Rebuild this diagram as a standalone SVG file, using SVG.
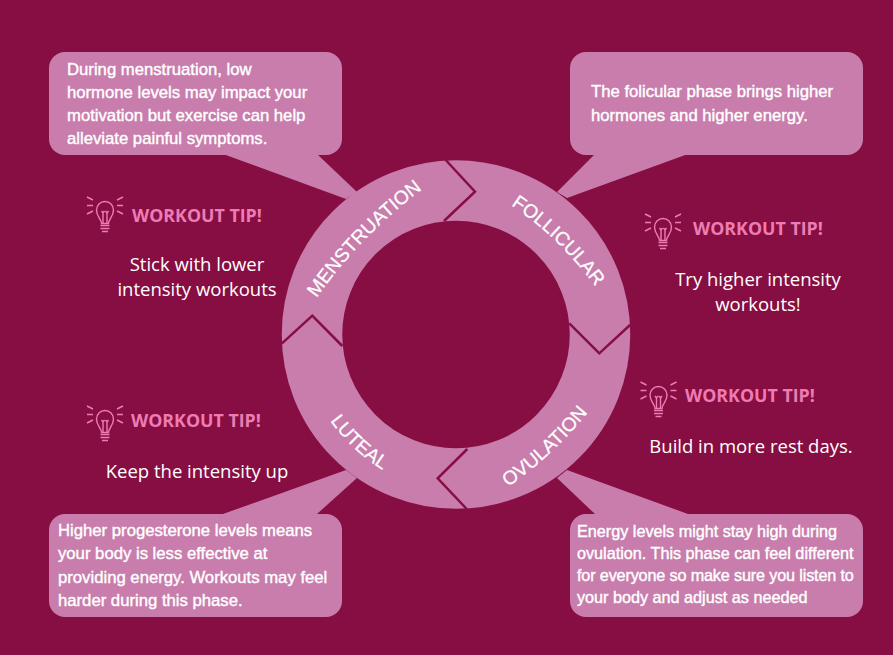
<svg xmlns="http://www.w3.org/2000/svg" width="893" height="655" viewBox="0 0 893 655">
<style>
.p{fill:#c87dac}
.lbl{font:19.200px "Liberation Sans",Arial,sans-serif;fill:#fff;stroke:#fff;stroke-width:.25px}
.c{font:16.700px "Liberation Sans",Arial,sans-serif;fill:#fff;stroke:#fff;stroke-width:.4px}
.t{font:18.500px "Open Sans",sans-serif;fill:#fff;text-anchor:middle}
.h{font:bold 17.800px "Open Sans",sans-serif;fill:#ee7cb4}
.b{fill:none;stroke:#ee7cb4;stroke-width:1.400}
.g{fill:none;stroke:#870e42;stroke-width:2.500}
</style>
<defs>
<g id="bulb" class="b">
<path d="M-3.500 13C-3.500 9-8.500 6-8.500-.5A8.500 8.500 0 1 1 8.500-.5C8.500 6 3.500 9 3.500 13Z" transform="translate(0 -.5)"/>
<path d="M-2 12V2M2 12V2M-2 2-3.500 0M-2 2-.5 0M2 2 .5 0M2 2 3.500 0M-4.500 14.500H4.500M-4.500 17.500H4.500M-3 20.500H3"/>
<path d="M-12-11-18-14M-12-5.500H-18M-12 0-18 3M12-11 18-14M12-5.500H18M12 0 18 3"/>
</g>
<path id="pm" d="M316.700 298Q360 236 424 188"/>
<path id="pf" d="M511 205Q560 238 598 290"/>
<path id="po" d="M508 487Q553 456 590 410"/>
<path id="pl" d="M330 420.700Q351 450 384 471"/>
</defs>
<rect width="893" height="655" fill="#870e42"/>
<g id="connectors">
<path class="p" d="M223 154 346 199 357 192 317 154Z"/>
<path class="p" d="M595 154 557 192 567 198 688 154Z"/>
<path class="p" d="M223 514 346 470 357 478 317 514Z"/>
<path class="p" d="M595 514 557 478 567 470 688 514Z"/>
</g>
<g id="ring">
<circle cx="456" cy="334.500" r="144" fill="none" stroke="#c87dac" stroke-width="60.500"/>
<path class="g" d="M445.700 160 475 191.700 444 221"/>
<path class="g" d="M282 343.300 312.300 315.700 342.300 346"/>
<path class="g" d="M466.700 509 437.700 478.300 467.300 449"/>
<path class="g" d="M630 325 599.300 353.300 569.300 323.300"/>
</g>
<g id="menstruation">
<rect class="p" x="49" y="52" width="293" height="103" rx="16"/>
<text class="c"><tspan x="67" y="75">During menstruation, low</tspan><tspan x="67" y="98">hormone levels may impact your</tspan><tspan x="67" y="121">motivation but exercise can help</tspan><tspan x="67" y="144">alleviate painful symptoms.</tspan></text>
<text class="lbl"><textPath href="#pm">MENSTRUATION</textPath></text>
<use href="#bulb" x="105" y="211"/>
<text class="h" x="132" y="222">WORKOUT TIP!</text>
<text class="t"><tspan x="197" y="271">Stick with lower</tspan><tspan x="197" y="296">intensity workouts</tspan></text>
</g>
<g id="follicular">
<rect class="p" x="570" y="52" width="293" height="103" rx="16"/>
<text class="c"><tspan x="591" y="97">The folicular phase brings higher</tspan><tspan x="591" y="121">hormones and higher energy.</tspan></text>
<text class="lbl"><textPath href="#pf">FOLLICULAR</textPath></text>
<use href="#bulb" x="663" y="228"/>
<text class="h" x="693" y="235">WORKOUT TIP!</text>
<text class="t"><tspan x="758" y="286">Try higher intensity</tspan><tspan x="758" y="311">workouts!</tspan></text>
</g>
<g id="ovulation">
<rect class="p" x="570" y="514" width="293" height="103" rx="16"/>
<text class="c" style="font-size:16.200px"><tspan x="577" y="537">Energy levels might stay high during</tspan><tspan x="577" y="559">ovulation. This phase can feel different</tspan><tspan x="577" y="581" letter-spacing="-.15">for everyone so make sure you listen to</tspan><tspan x="577" y="603">your body and adjust as needed</tspan></text>
<text class="lbl"><textPath href="#po">OVULATION</textPath></text>
<use href="#bulb" x="658.500" y="396"/>
<text class="h" x="685" y="402">WORKOUT TIP!</text>
<text class="t" x="751" y="453">Build in more rest days.</text>
</g>
<g id="luteal">
<rect class="p" x="49" y="514" width="293" height="103" rx="16"/>
<text class="c"><tspan x="58" y="536">Higher progesterone levels means</tspan><tspan x="58" y="559">your body is less effective at</tspan><tspan x="58" y="583">providing energy. Workouts may feel</tspan><tspan x="58" y="606">harder during this phase.</tspan></text>
<text class="lbl"><textPath href="#pl">LUTEAL</textPath></text>
<use href="#bulb" x="105" y="420"/>
<text class="h" x="131" y="427">WORKOUT TIP!</text>
<text class="t" x="197" y="478">Keep the intensity up</text>
</g>
</svg>
